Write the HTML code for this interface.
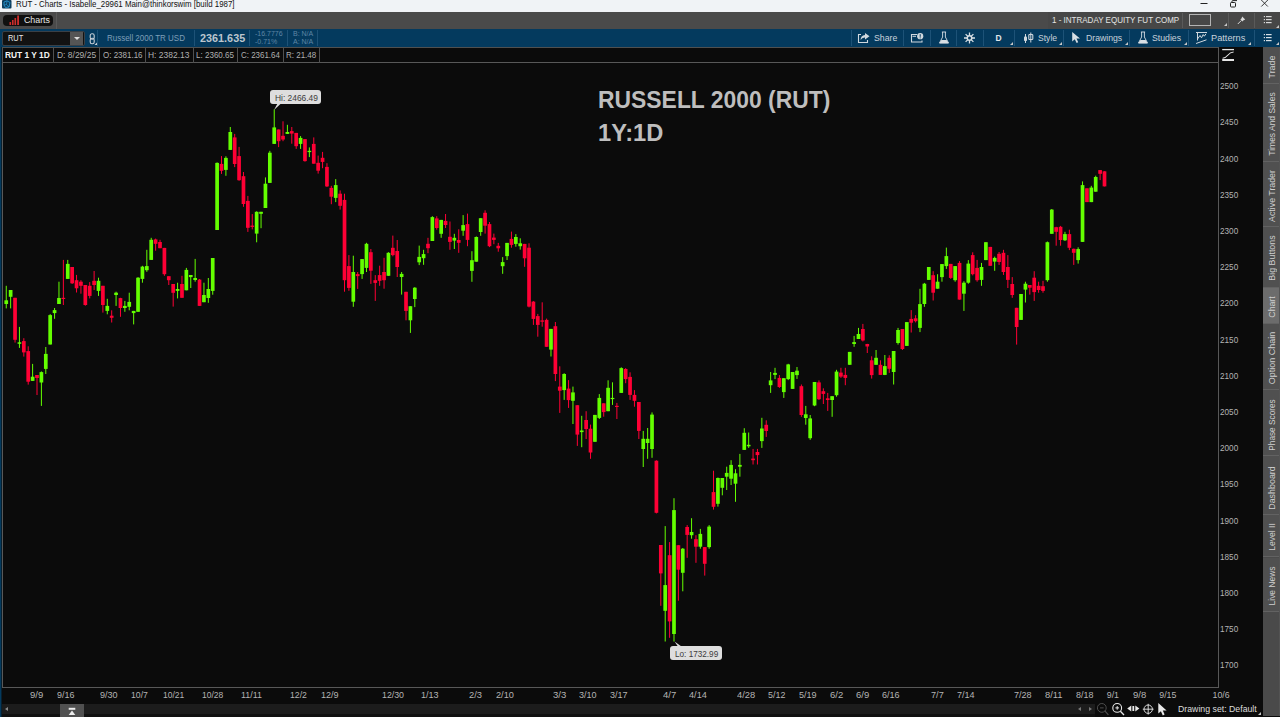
<!DOCTYPE html>
<html>
<head>
<meta charset="utf-8">
<title>RUT - Charts</title>
<style>
*{box-sizing:border-box;margin:0;padding:0}
html,body{width:1280px;height:717px;overflow:hidden;background:#0b0b0b;font-family:"Liberation Sans",sans-serif;}
#root{position:relative;width:1280px;height:717px;overflow:hidden;background:#0b0b0b;color:#c8c8c8;font-size:9px}
.abs{position:absolute}
/* title bar */
#titlebar{position:absolute;left:0;top:0;width:1280px;height:12px;background:#f0f3f6}
.titletext{position:absolute;left:15.8px;top:-1.8px;font-size:9.6px;line-height:11px;color:#111;white-space:nowrap}
/* tab bar */
#tabbar{position:absolute;left:0;top:12px;width:1280px;height:17px;background:#4a4a4a}
#chartstab{position:absolute;left:3px;top:3px;width:50px;height:11px;background:#101010;border-radius:4px}
#chartstab span{position:absolute;left:20.5px;top:0;font-size:9.2px;line-height:11px;color:#e8e8e8;white-space:nowrap}
.vsep{position:absolute;width:1px;background:#5a5a5a}
/* toolbar */
#toolbar{position:absolute;left:0;top:29px;width:1280px;height:18px;background:#043a5e}
.tsep{position:absolute;top:1px;width:1px;height:16px;background:#1d5277}
.tbt{position:absolute;top:3px;font-size:9.5px;line-height:12px;color:#c9d3dc;white-space:nowrap}
.tri{position:absolute;width:0;height:0;border-left:3px solid transparent;border-bottom:3px solid #c8c8c8}
/* info row */
#inforow{position:absolute;left:0;top:47px;width:1218px;height:15px}
.cell{position:absolute;top:1px;height:14px;border:1px solid #2e2e2e;background:#101010}
.ct{position:absolute;top:2px;font-size:8.8px;line-height:12px;color:#b0b0b0;white-space:nowrap}
.fit{transform-origin:0 50%}
/* chart */
#chart{position:absolute;left:0;top:0;width:1280px;height:717px}
.pl{position:absolute;left:1220px;font-size:8.8px;line-height:12px;color:#b4b4b4;white-space:nowrap}
.tl{position:absolute;top:688.8px;font-size:8.8px;line-height:12px;color:#b4b4b4;white-space:nowrap}
/* sidebar */
#sidebar{position:absolute;left:1263px;top:47px;width:17px;height:669px;background:#4a4a4a;border-right:1px solid #535353}
.st{position:absolute;left:1263px;width:16px;border-bottom:1px solid #626262;background:#505050}
.st.hl{background:#6c6c6c}
.st .rot{position:absolute;left:54%;top:50%;white-space:nowrap;font-size:9px;line-height:10px;color:#cfcfcf;transform:translate(-50%,-50%) rotate(-90deg);}
.fitc{display:inline-block;transform-origin:50% 50%}
.bigtitle{position:absolute;font-size:23.4px;font-weight:bold;line-height:33.3px;color:#bebebe;white-space:nowrap}
.bubble{position:absolute;height:14.3px;background:#dedede;border-radius:3px}
.btx{position:absolute;color:#3c3c3c;font-size:8.7px;line-height:14px;white-space:nowrap}
</style>
</head>
<body>
<div id="root">

<!-- ===== chart area ===== -->
<div id="chart">
<svg class="abs" style="left:0;top:0" width="1280" height="717" viewBox="0 0 1280 717" shape-rendering="crispEdges">
<!-- frame -->
<rect x="0" y="47" width="1" height="670" fill="#043a5e"/><rect x="1" y="47" width="1" height="670" fill="#08202f"/>
<rect x="2" y="62" width="1217" height="1" fill="#585858"/>
<rect x="2" y="47" width="1217" height="1" fill="#505050"/>
<rect x="2" y="47" width="1" height="16" fill="#505050"/>
<rect x="53" y="47" width="1" height="16" fill="#505050"/>
<rect x="99" y="47" width="1" height="16" fill="#505050"/>
<rect x="145" y="47" width="1" height="16" fill="#505050"/>
<rect x="193" y="47" width="1" height="16" fill="#505050"/>
<rect x="237" y="47" width="1" height="16" fill="#505050"/>
<rect x="283" y="47" width="1" height="16" fill="#505050"/>
<rect x="319" y="47" width="1" height="16" fill="#505050"/>
<rect x="2" y="62" width="1" height="626" fill="#585858"/>
<rect x="1218" y="47" width="1" height="641" fill="#585858"/>
<rect x="2" y="687" width="1217" height="1" fill="#585858"/>
</svg>
<svg class="abs" style="left:0;top:0" width="1280" height="717" viewBox="0 0 1280 717">
<rect x="5.75" y="285.8" width="1" height="22.6" fill="#64ff00"/>
<rect x="4.40" y="300.3" width="3.7" height="3.7" fill="#64ff00"/>
<rect x="10.14" y="290.0" width="1" height="18.4" fill="#64ff00"/>
<rect x="8.79" y="290.0" width="3.7" height="6.8" fill="#64ff00"/>
<rect x="14.54" y="297.8" width="1" height="44.8" fill="#ff0035"/>
<rect x="13.19" y="297.8" width="3.7" height="42.0" fill="#ff0035"/>
<rect x="18.93" y="326.9" width="1" height="21.0" fill="#64ff00"/>
<rect x="17.58" y="342.3" width="3.7" height="1.5" fill="#64ff00"/>
<rect x="23.32" y="338.2" width="1" height="18.4" fill="#ff0035"/>
<rect x="21.97" y="341.1" width="3.7" height="11.3" fill="#ff0035"/>
<rect x="27.71" y="346.3" width="1" height="38.3" fill="#ff0035"/>
<rect x="26.36" y="351.1" width="3.7" height="30.6" fill="#ff0035"/>
<rect x="32.11" y="363.9" width="1" height="17.0" fill="#64ff00"/>
<rect x="30.76" y="376.7" width="3.7" height="4.2" fill="#64ff00"/>
<rect x="36.50" y="375.0" width="1" height="20.0" fill="#ff0035"/>
<rect x="35.15" y="375.0" width="3.7" height="3.0" fill="#ff0035"/>
<rect x="40.89" y="371.4" width="1" height="34.5" fill="#64ff00"/>
<rect x="39.54" y="372.1" width="3.7" height="10.4" fill="#64ff00"/>
<rect x="45.29" y="347.0" width="1" height="27.0" fill="#64ff00"/>
<rect x="43.94" y="353.9" width="3.7" height="15.0" fill="#64ff00"/>
<rect x="49.68" y="314.1" width="1" height="30.4" fill="#64ff00"/>
<rect x="48.33" y="315.1" width="3.7" height="29.4" fill="#64ff00"/>
<rect x="54.07" y="308.0" width="1" height="10.8" fill="#64ff00"/>
<rect x="52.72" y="310.1" width="3.7" height="3.0" fill="#64ff00"/>
<rect x="58.47" y="281.7" width="1" height="22.3" fill="#64ff00"/>
<rect x="57.12" y="298.0" width="3.7" height="6.0" fill="#64ff00"/>
<rect x="62.86" y="259.9" width="1" height="45.1" fill="#ff0035"/>
<rect x="61.51" y="297.8" width="3.7" height="1.2" fill="#ff0035"/>
<rect x="67.25" y="259.9" width="1" height="19.0" fill="#64ff00"/>
<rect x="65.90" y="263.9" width="3.7" height="15.0" fill="#64ff00"/>
<rect x="71.64" y="267.0" width="1" height="17.0" fill="#ff0035"/>
<rect x="70.29" y="267.0" width="3.7" height="16.3" fill="#ff0035"/>
<rect x="76.04" y="274.9" width="1" height="17.6" fill="#ff0035"/>
<rect x="74.69" y="280.2" width="3.7" height="8.1" fill="#ff0035"/>
<rect x="80.43" y="280.2" width="1" height="13.5" fill="#ff0035"/>
<rect x="79.08" y="281.7" width="3.7" height="4.1" fill="#ff0035"/>
<rect x="84.82" y="285.0" width="1" height="20.7" fill="#ff0035"/>
<rect x="83.47" y="285.0" width="3.7" height="20.0" fill="#ff0035"/>
<rect x="89.22" y="282.1" width="1" height="16.3" fill="#ff0035"/>
<rect x="87.87" y="285.8" width="3.7" height="10.1" fill="#ff0035"/>
<rect x="93.61" y="271.0" width="1" height="19.0" fill="#ff0035"/>
<rect x="92.26" y="280.8" width="3.7" height="4.2" fill="#ff0035"/>
<rect x="98.00" y="277.7" width="1" height="18.2" fill="#64ff00"/>
<rect x="96.65" y="280.8" width="3.7" height="10.1" fill="#64ff00"/>
<rect x="102.40" y="285.8" width="1" height="26.8" fill="#ff0035"/>
<rect x="101.05" y="285.8" width="3.7" height="19.2" fill="#ff0035"/>
<rect x="106.79" y="298.8" width="1" height="15.5" fill="#64ff00"/>
<rect x="105.44" y="305.9" width="3.7" height="5.0" fill="#64ff00"/>
<rect x="111.18" y="310.3" width="1" height="12.2" fill="#ff0035"/>
<rect x="109.83" y="315.7" width="3.7" height="2.1" fill="#ff0035"/>
<rect x="115.57" y="291.7" width="1" height="14.2" fill="#64ff00"/>
<rect x="114.22" y="292.7" width="3.7" height="2.3" fill="#64ff00"/>
<rect x="119.97" y="297.8" width="1" height="19.0" fill="#ff0035"/>
<rect x="118.62" y="298.1" width="3.7" height="9.9" fill="#ff0035"/>
<rect x="124.36" y="300.9" width="1" height="10.9" fill="#64ff00"/>
<rect x="123.01" y="305.9" width="3.7" height="2.1" fill="#64ff00"/>
<rect x="128.75" y="292.7" width="1" height="17.6" fill="#64ff00"/>
<rect x="127.40" y="301.9" width="3.7" height="4.9" fill="#64ff00"/>
<rect x="133.15" y="310.9" width="1" height="13.5" fill="#64ff00"/>
<rect x="131.80" y="310.9" width="3.7" height="2.2" fill="#64ff00"/>
<rect x="137.54" y="277.1" width="1" height="34.7" fill="#64ff00"/>
<rect x="136.19" y="277.7" width="3.7" height="34.1" fill="#64ff00"/>
<rect x="141.93" y="265.8" width="1" height="16.9" fill="#64ff00"/>
<rect x="140.58" y="266.6" width="3.7" height="12.3" fill="#64ff00"/>
<rect x="146.33" y="249.8" width="1" height="22.0" fill="#64ff00"/>
<rect x="144.98" y="266.1" width="3.7" height="4.1" fill="#64ff00"/>
<rect x="150.72" y="237.8" width="1" height="22.1" fill="#64ff00"/>
<rect x="149.37" y="239.8" width="3.7" height="20.1" fill="#64ff00"/>
<rect x="155.11" y="238.6" width="1" height="12.1" fill="#ff0035"/>
<rect x="153.76" y="239.4" width="3.7" height="4.4" fill="#ff0035"/>
<rect x="159.50" y="239.8" width="1" height="8.4" fill="#ff0035"/>
<rect x="158.15" y="242.0" width="3.7" height="6.2" fill="#ff0035"/>
<rect x="163.90" y="247.9" width="1" height="27.9" fill="#ff0035"/>
<rect x="162.55" y="247.9" width="3.7" height="26.3" fill="#ff0035"/>
<rect x="168.29" y="276.2" width="1" height="8.8" fill="#ff0035"/>
<rect x="166.94" y="276.2" width="3.7" height="4.0" fill="#ff0035"/>
<rect x="172.68" y="284.0" width="1" height="22.6" fill="#ff0035"/>
<rect x="171.33" y="284.0" width="3.7" height="8.8" fill="#ff0035"/>
<rect x="177.08" y="282.7" width="1" height="15.7" fill="#64ff00"/>
<rect x="175.73" y="289.0" width="3.7" height="1.9" fill="#64ff00"/>
<rect x="181.47" y="275.8" width="1" height="22.0" fill="#ff0035"/>
<rect x="180.12" y="284.0" width="3.7" height="13.8" fill="#ff0035"/>
<rect x="185.86" y="267.9" width="1" height="22.4" fill="#64ff00"/>
<rect x="184.51" y="269.9" width="3.7" height="20.4" fill="#64ff00"/>
<rect x="190.26" y="275.0" width="1" height="13.0" fill="#64ff00"/>
<rect x="188.91" y="275.0" width="3.7" height="2.1" fill="#64ff00"/>
<rect x="194.65" y="258.9" width="1" height="22.8" fill="#64ff00"/>
<rect x="193.30" y="278.0" width="3.7" height="2.0" fill="#64ff00"/>
<rect x="199.04" y="279.0" width="1" height="26.9" fill="#ff0035"/>
<rect x="197.69" y="279.6" width="3.7" height="26.3" fill="#ff0035"/>
<rect x="203.44" y="282.7" width="1" height="19.5" fill="#64ff00"/>
<rect x="202.09" y="295.0" width="3.7" height="7.2" fill="#64ff00"/>
<rect x="207.83" y="278.0" width="1" height="24.8" fill="#64ff00"/>
<rect x="206.48" y="289.0" width="3.7" height="9.0" fill="#64ff00"/>
<rect x="212.22" y="258.0" width="1" height="36.7" fill="#64ff00"/>
<rect x="210.87" y="258.0" width="3.7" height="32.9" fill="#64ff00"/>
<rect x="216.61" y="162.4" width="1" height="67.6" fill="#64ff00"/>
<rect x="215.26" y="162.9" width="3.7" height="67.1" fill="#64ff00"/>
<rect x="221.01" y="156.1" width="1" height="17.8" fill="#ff0035"/>
<rect x="219.66" y="163.9" width="3.7" height="6.9" fill="#ff0035"/>
<rect x="225.40" y="156.3" width="1" height="19.5" fill="#64ff00"/>
<rect x="224.05" y="157.9" width="3.7" height="12.0" fill="#64ff00"/>
<rect x="229.79" y="127.0" width="1" height="22.9" fill="#64ff00"/>
<rect x="228.44" y="132.0" width="3.7" height="17.9" fill="#64ff00"/>
<rect x="234.19" y="133.9" width="1" height="33.2" fill="#ff0035"/>
<rect x="232.84" y="137.4" width="3.7" height="26.6" fill="#ff0035"/>
<rect x="238.58" y="146.9" width="1" height="33.9" fill="#ff0035"/>
<rect x="237.23" y="156.1" width="3.7" height="24.1" fill="#ff0035"/>
<rect x="242.97" y="172.0" width="1" height="34.8" fill="#ff0035"/>
<rect x="241.62" y="176.2" width="3.7" height="27.8" fill="#ff0035"/>
<rect x="247.36" y="195.9" width="1" height="36.0" fill="#ff0035"/>
<rect x="246.01" y="200.9" width="3.7" height="26.9" fill="#ff0035"/>
<rect x="251.76" y="214.1" width="1" height="15.3" fill="#ff0035"/>
<rect x="250.41" y="225.6" width="3.7" height="1.3" fill="#ff0035"/>
<rect x="256.15" y="211.3" width="1" height="31.0" fill="#64ff00"/>
<rect x="254.80" y="211.8" width="3.7" height="21.8" fill="#64ff00"/>
<rect x="260.54" y="211.8" width="1" height="16.4" fill="#64ff00"/>
<rect x="259.19" y="211.8" width="3.7" height="2.0" fill="#64ff00"/>
<rect x="264.94" y="177.4" width="1" height="30.6" fill="#64ff00"/>
<rect x="263.59" y="183.7" width="3.7" height="24.3" fill="#64ff00"/>
<rect x="269.33" y="150.8" width="1" height="32.1" fill="#64ff00"/>
<rect x="267.98" y="152.7" width="3.7" height="30.2" fill="#64ff00"/>
<rect x="273.72" y="109.4" width="1" height="34.5" fill="#64ff00"/>
<rect x="272.37" y="127.4" width="3.7" height="16.5" fill="#64ff00"/>
<rect x="278.12" y="129.5" width="1" height="17.6" fill="#ff0035"/>
<rect x="276.77" y="129.5" width="3.7" height="11.7" fill="#ff0035"/>
<rect x="282.51" y="121.3" width="1" height="19.9" fill="#ff0035"/>
<rect x="281.16" y="135.8" width="3.7" height="3.7" fill="#ff0035"/>
<rect x="286.90" y="124.8" width="1" height="9.1" fill="#64ff00"/>
<rect x="285.55" y="132.0" width="3.7" height="1.9" fill="#64ff00"/>
<rect x="291.29" y="127.0" width="1" height="16.7" fill="#ff0035"/>
<rect x="289.94" y="131.1" width="3.7" height="2.5" fill="#ff0035"/>
<rect x="295.69" y="132.9" width="1" height="16.0" fill="#ff0035"/>
<rect x="294.34" y="132.9" width="3.7" height="13.3" fill="#ff0035"/>
<rect x="300.08" y="136.1" width="1" height="12.8" fill="#64ff00"/>
<rect x="298.73" y="137.9" width="3.7" height="6.0" fill="#64ff00"/>
<rect x="304.47" y="139.1" width="1" height="22.6" fill="#ff0035"/>
<rect x="303.12" y="139.1" width="3.7" height="22.0" fill="#ff0035"/>
<rect x="308.87" y="147.4" width="1" height="9.7" fill="#64ff00"/>
<rect x="307.52" y="150.8" width="3.7" height="1.3" fill="#64ff00"/>
<rect x="313.26" y="137.4" width="1" height="26.3" fill="#ff0035"/>
<rect x="311.91" y="143.9" width="3.7" height="19.8" fill="#ff0035"/>
<rect x="317.65" y="155.6" width="1" height="18.0" fill="#ff0035"/>
<rect x="316.30" y="162.8" width="3.7" height="7.9" fill="#ff0035"/>
<rect x="322.05" y="151.9" width="1" height="16.3" fill="#ff0035"/>
<rect x="320.70" y="157.8" width="3.7" height="4.1" fill="#ff0035"/>
<rect x="326.44" y="163.2" width="1" height="23.8" fill="#ff0035"/>
<rect x="325.09" y="166.9" width="3.7" height="19.5" fill="#ff0035"/>
<rect x="330.83" y="185.8" width="1" height="18.4" fill="#ff0035"/>
<rect x="329.48" y="187.9" width="3.7" height="8.8" fill="#ff0035"/>
<rect x="335.22" y="179.1" width="1" height="23.0" fill="#64ff00"/>
<rect x="333.87" y="185.1" width="3.7" height="12.8" fill="#64ff00"/>
<rect x="339.62" y="190.4" width="1" height="19.2" fill="#ff0035"/>
<rect x="338.27" y="193.7" width="3.7" height="12.1" fill="#ff0035"/>
<rect x="344.01" y="193.7" width="1" height="98.0" fill="#ff0035"/>
<rect x="342.66" y="199.9" width="3.7" height="80.3" fill="#ff0035"/>
<rect x="348.40" y="255.1" width="1" height="35.7" fill="#ff0035"/>
<rect x="347.05" y="266.1" width="3.7" height="21.8" fill="#ff0035"/>
<rect x="352.80" y="255.7" width="1" height="51.1" fill="#64ff00"/>
<rect x="351.45" y="272.0" width="3.7" height="29.7" fill="#64ff00"/>
<rect x="357.19" y="272.0" width="1" height="16.9" fill="#ff0035"/>
<rect x="355.84" y="274.1" width="3.7" height="2.0" fill="#ff0035"/>
<rect x="361.58" y="259.1" width="1" height="19.8" fill="#64ff00"/>
<rect x="360.23" y="259.1" width="3.7" height="15.0" fill="#64ff00"/>
<rect x="365.98" y="242.8" width="1" height="29.2" fill="#64ff00"/>
<rect x="364.63" y="243.8" width="3.7" height="24.1" fill="#64ff00"/>
<rect x="370.37" y="249.0" width="1" height="34.9" fill="#ff0035"/>
<rect x="369.02" y="252.2" width="3.7" height="18.5" fill="#ff0035"/>
<rect x="374.76" y="275.1" width="1" height="25.8" fill="#ff0035"/>
<rect x="373.41" y="280.2" width="3.7" height="2.7" fill="#ff0035"/>
<rect x="379.15" y="265.7" width="1" height="20.1" fill="#ff0035"/>
<rect x="377.80" y="275.1" width="3.7" height="5.7" fill="#ff0035"/>
<rect x="383.55" y="257.8" width="1" height="30.9" fill="#ff0035"/>
<rect x="382.20" y="272.0" width="3.7" height="8.2" fill="#ff0035"/>
<rect x="387.94" y="252.2" width="1" height="23.6" fill="#64ff00"/>
<rect x="386.59" y="252.8" width="3.7" height="23.0" fill="#64ff00"/>
<rect x="392.33" y="235.6" width="1" height="20.7" fill="#ff0035"/>
<rect x="390.98" y="247.8" width="3.7" height="7.3" fill="#ff0035"/>
<rect x="396.73" y="240.0" width="1" height="37.0" fill="#ff0035"/>
<rect x="395.38" y="251.0" width="3.7" height="16.0" fill="#ff0035"/>
<rect x="401.12" y="272.0" width="1" height="22.6" fill="#64ff00"/>
<rect x="399.77" y="273.9" width="3.7" height="3.1" fill="#64ff00"/>
<rect x="405.51" y="291.8" width="1" height="28.5" fill="#ff0035"/>
<rect x="404.16" y="291.8" width="3.7" height="19.1" fill="#ff0035"/>
<rect x="409.91" y="306.2" width="1" height="26.7" fill="#64ff00"/>
<rect x="408.56" y="306.2" width="3.7" height="14.1" fill="#64ff00"/>
<rect x="414.30" y="287.1" width="1" height="20.0" fill="#64ff00"/>
<rect x="412.95" y="287.7" width="3.7" height="11.3" fill="#64ff00"/>
<rect x="418.69" y="245.6" width="1" height="19.5" fill="#64ff00"/>
<rect x="417.34" y="256.9" width="3.7" height="5.4" fill="#64ff00"/>
<rect x="423.08" y="249.8" width="1" height="15.0" fill="#64ff00"/>
<rect x="421.73" y="254.1" width="3.7" height="4.1" fill="#64ff00"/>
<rect x="427.48" y="237.8" width="1" height="15.4" fill="#ff0035"/>
<rect x="426.13" y="243.8" width="3.7" height="4.4" fill="#ff0035"/>
<rect x="431.87" y="216.2" width="1" height="24.8" fill="#64ff00"/>
<rect x="430.52" y="217.1" width="3.7" height="23.9" fill="#64ff00"/>
<rect x="436.26" y="216.2" width="1" height="13.5" fill="#ff0035"/>
<rect x="434.91" y="218.4" width="3.7" height="9.6" fill="#ff0035"/>
<rect x="440.66" y="219.9" width="1" height="17.9" fill="#64ff00"/>
<rect x="439.31" y="219.9" width="3.7" height="13.9" fill="#64ff00"/>
<rect x="445.05" y="214.0" width="1" height="14.0" fill="#ff0035"/>
<rect x="443.70" y="220.9" width="3.7" height="4.1" fill="#ff0035"/>
<rect x="449.44" y="221.5" width="1" height="28.3" fill="#ff0035"/>
<rect x="448.09" y="236.8" width="3.7" height="5.1" fill="#ff0035"/>
<rect x="453.84" y="233.8" width="1" height="15.2" fill="#64ff00"/>
<rect x="452.49" y="237.8" width="3.7" height="2.8" fill="#64ff00"/>
<rect x="458.23" y="229.3" width="1" height="23.5" fill="#ff0035"/>
<rect x="456.88" y="240.0" width="3.7" height="2.8" fill="#ff0035"/>
<rect x="462.62" y="215.1" width="1" height="20.7" fill="#64ff00"/>
<rect x="461.27" y="225.1" width="3.7" height="5.6" fill="#64ff00"/>
<rect x="467.01" y="213.6" width="1" height="32.6" fill="#ff0035"/>
<rect x="465.66" y="224.1" width="3.7" height="15.8" fill="#ff0035"/>
<rect x="471.41" y="251.2" width="1" height="30.6" fill="#64ff00"/>
<rect x="470.06" y="260.2" width="3.7" height="10.7" fill="#64ff00"/>
<rect x="475.80" y="236.4" width="1" height="25.3" fill="#64ff00"/>
<rect x="474.45" y="237.0" width="3.7" height="24.7" fill="#64ff00"/>
<rect x="480.19" y="218.2" width="1" height="17.6" fill="#64ff00"/>
<rect x="478.84" y="218.2" width="3.7" height="13.8" fill="#64ff00"/>
<rect x="484.59" y="210.3" width="1" height="23.3" fill="#ff0035"/>
<rect x="483.24" y="212.8" width="3.7" height="12.9" fill="#ff0035"/>
<rect x="488.98" y="222.0" width="1" height="25.1" fill="#ff0035"/>
<rect x="487.63" y="224.1" width="3.7" height="22.1" fill="#ff0035"/>
<rect x="493.37" y="233.6" width="1" height="10.6" fill="#ff0035"/>
<rect x="492.02" y="237.6" width="3.7" height="2.3" fill="#ff0035"/>
<rect x="497.77" y="242.9" width="1" height="8.8" fill="#ff0035"/>
<rect x="496.42" y="245.8" width="3.7" height="2.5" fill="#ff0035"/>
<rect x="502.16" y="257.1" width="1" height="16.7" fill="#64ff00"/>
<rect x="500.81" y="262.1" width="3.7" height="4.1" fill="#64ff00"/>
<rect x="506.55" y="242.9" width="1" height="17.1" fill="#64ff00"/>
<rect x="505.20" y="242.9" width="3.7" height="13.2" fill="#64ff00"/>
<rect x="510.94" y="231.6" width="1" height="16.1" fill="#ff0035"/>
<rect x="509.59" y="238.9" width="3.7" height="6.0" fill="#ff0035"/>
<rect x="515.34" y="234.1" width="1" height="12.6" fill="#64ff00"/>
<rect x="513.99" y="237.0" width="3.7" height="6.9" fill="#64ff00"/>
<rect x="519.73" y="238.3" width="1" height="11.3" fill="#64ff00"/>
<rect x="518.38" y="243.3" width="3.7" height="2.9" fill="#64ff00"/>
<rect x="524.12" y="243.9" width="1" height="22.9" fill="#ff0035"/>
<rect x="522.77" y="243.9" width="3.7" height="14.4" fill="#ff0035"/>
<rect x="528.52" y="243.3" width="1" height="64.1" fill="#ff0035"/>
<rect x="527.17" y="247.7" width="3.7" height="58.9" fill="#ff0035"/>
<rect x="532.91" y="301.1" width="1" height="23.8" fill="#ff0035"/>
<rect x="531.56" y="301.6" width="3.7" height="17.3" fill="#ff0035"/>
<rect x="537.30" y="313.9" width="1" height="22.8" fill="#ff0035"/>
<rect x="535.95" y="316.1" width="3.7" height="8.8" fill="#ff0035"/>
<rect x="541.70" y="302.3" width="1" height="24.4" fill="#ff0035"/>
<rect x="540.35" y="320.4" width="3.7" height="1.3" fill="#ff0035"/>
<rect x="546.09" y="318.6" width="1" height="28.2" fill="#ff0035"/>
<rect x="544.74" y="319.9" width="3.7" height="26.9" fill="#ff0035"/>
<rect x="550.48" y="328.9" width="1" height="27.6" fill="#64ff00"/>
<rect x="549.13" y="328.9" width="3.7" height="20.7" fill="#64ff00"/>
<rect x="554.88" y="322.0" width="1" height="59.1" fill="#ff0035"/>
<rect x="553.53" y="326.2" width="3.7" height="47.8" fill="#ff0035"/>
<rect x="559.27" y="366.3" width="1" height="46.6" fill="#ff0035"/>
<rect x="557.92" y="386.6" width="3.7" height="4.1" fill="#ff0035"/>
<rect x="563.66" y="373.2" width="1" height="26.7" fill="#64ff00"/>
<rect x="562.31" y="374.0" width="3.7" height="16.1" fill="#64ff00"/>
<rect x="568.05" y="380.1" width="1" height="27.8" fill="#ff0035"/>
<rect x="566.70" y="388.6" width="3.7" height="11.5" fill="#ff0035"/>
<rect x="572.45" y="386.6" width="1" height="37.4" fill="#64ff00"/>
<rect x="571.10" y="392.4" width="3.7" height="8.4" fill="#64ff00"/>
<rect x="576.84" y="405.2" width="1" height="40.7" fill="#ff0035"/>
<rect x="575.49" y="405.2" width="3.7" height="29.4" fill="#ff0035"/>
<rect x="581.23" y="415.8" width="1" height="31.4" fill="#64ff00"/>
<rect x="579.88" y="430.5" width="3.7" height="1.6" fill="#64ff00"/>
<rect x="585.63" y="411.2" width="1" height="27.8" fill="#ff0035"/>
<rect x="584.28" y="420.0" width="3.7" height="9.0" fill="#ff0035"/>
<rect x="590.02" y="424.6" width="1" height="34.2" fill="#ff0035"/>
<rect x="588.67" y="428.7" width="3.7" height="23.8" fill="#ff0035"/>
<rect x="594.41" y="414.9" width="1" height="26.9" fill="#64ff00"/>
<rect x="593.06" y="414.9" width="3.7" height="26.9" fill="#64ff00"/>
<rect x="598.80" y="394.1" width="1" height="24.9" fill="#64ff00"/>
<rect x="597.45" y="397.9" width="3.7" height="20.0" fill="#64ff00"/>
<rect x="603.20" y="403.3" width="1" height="13.4" fill="#ff0035"/>
<rect x="601.85" y="403.3" width="3.7" height="8.8" fill="#ff0035"/>
<rect x="607.59" y="380.3" width="1" height="30.9" fill="#64ff00"/>
<rect x="606.24" y="387.8" width="3.7" height="23.4" fill="#64ff00"/>
<rect x="611.98" y="382.3" width="1" height="22.6" fill="#64ff00"/>
<rect x="610.63" y="397.9" width="3.7" height="1.2" fill="#64ff00"/>
<rect x="616.38" y="402.9" width="1" height="16.1" fill="#ff0035"/>
<rect x="615.03" y="405.8" width="3.7" height="1.2" fill="#ff0035"/>
<rect x="620.77" y="367.3" width="1" height="25.6" fill="#64ff00"/>
<rect x="619.42" y="368.1" width="3.7" height="24.8" fill="#64ff00"/>
<rect x="625.16" y="368.1" width="1" height="15.1" fill="#ff0035"/>
<rect x="623.81" y="369.0" width="3.7" height="10.1" fill="#ff0035"/>
<rect x="629.56" y="372.3" width="1" height="27.6" fill="#ff0035"/>
<rect x="628.21" y="376.9" width="3.7" height="18.0" fill="#ff0035"/>
<rect x="633.95" y="390.1" width="1" height="16.6" fill="#ff0035"/>
<rect x="632.60" y="394.9" width="3.7" height="5.9" fill="#ff0035"/>
<rect x="638.34" y="402.0" width="1" height="37.0" fill="#ff0035"/>
<rect x="636.99" y="402.0" width="3.7" height="28.9" fill="#ff0035"/>
<rect x="642.74" y="430.9" width="1" height="36.1" fill="#64ff00"/>
<rect x="641.39" y="438.8" width="3.7" height="10.2" fill="#64ff00"/>
<rect x="647.13" y="428.0" width="1" height="30.8" fill="#64ff00"/>
<rect x="645.78" y="438.8" width="3.7" height="4.2" fill="#64ff00"/>
<rect x="651.52" y="412.4" width="1" height="45.4" fill="#64ff00"/>
<rect x="650.17" y="414.6" width="3.7" height="34.4" fill="#64ff00"/>
<rect x="655.91" y="460.3" width="1" height="53.1" fill="#ff0035"/>
<rect x="654.56" y="460.7" width="3.7" height="52.1" fill="#ff0035"/>
<rect x="660.31" y="545.0" width="1" height="60.8" fill="#ff0035"/>
<rect x="658.96" y="545.0" width="3.7" height="28.4" fill="#ff0035"/>
<rect x="664.70" y="526.1" width="1" height="115.4" fill="#64ff00"/>
<rect x="663.35" y="585.1" width="3.7" height="25.7" fill="#64ff00"/>
<rect x="669.09" y="542.1" width="1" height="95.7" fill="#ff0035"/>
<rect x="667.74" y="555.2" width="3.7" height="66.2" fill="#ff0035"/>
<rect x="673.49" y="498.2" width="1" height="143.3" fill="#64ff00"/>
<rect x="672.14" y="510.1" width="3.7" height="123.9" fill="#64ff00"/>
<rect x="677.88" y="545.2" width="1" height="55.5" fill="#ff0035"/>
<rect x="676.53" y="545.2" width="3.7" height="24.5" fill="#ff0035"/>
<rect x="682.27" y="548.0" width="1" height="43.3" fill="#64ff00"/>
<rect x="680.92" y="548.7" width="3.7" height="24.1" fill="#64ff00"/>
<rect x="686.66" y="525.1" width="1" height="32.7" fill="#ff0035"/>
<rect x="685.31" y="527.0" width="3.7" height="7.9" fill="#ff0035"/>
<rect x="691.06" y="518.2" width="1" height="20.5" fill="#64ff00"/>
<rect x="689.71" y="532.0" width="3.7" height="3.2" fill="#64ff00"/>
<rect x="695.45" y="535.2" width="1" height="27.6" fill="#ff0035"/>
<rect x="694.10" y="539.2" width="3.7" height="7.5" fill="#ff0035"/>
<rect x="699.84" y="528.9" width="1" height="19.8" fill="#64ff00"/>
<rect x="698.49" y="533.9" width="3.7" height="12.8" fill="#64ff00"/>
<rect x="704.24" y="547.1" width="1" height="28.5" fill="#ff0035"/>
<rect x="702.89" y="547.1" width="3.7" height="16.7" fill="#ff0035"/>
<rect x="708.63" y="525.1" width="1" height="23.6" fill="#64ff00"/>
<rect x="707.28" y="526.6" width="3.7" height="20.5" fill="#64ff00"/>
<rect x="713.02" y="470.7" width="1" height="38.9" fill="#ff0035"/>
<rect x="711.67" y="492.1" width="3.7" height="14.7" fill="#ff0035"/>
<rect x="717.42" y="477.5" width="1" height="29.1" fill="#64ff00"/>
<rect x="716.07" y="478.0" width="3.7" height="25.8" fill="#64ff00"/>
<rect x="721.81" y="478.0" width="1" height="17.3" fill="#64ff00"/>
<rect x="720.46" y="478.0" width="3.7" height="9.8" fill="#64ff00"/>
<rect x="726.20" y="466.7" width="1" height="23.3" fill="#64ff00"/>
<rect x="724.85" y="472.9" width="3.7" height="3.8" fill="#64ff00"/>
<rect x="730.59" y="460.2" width="1" height="24.8" fill="#64ff00"/>
<rect x="729.24" y="464.9" width="3.7" height="13.8" fill="#64ff00"/>
<rect x="734.99" y="469.2" width="1" height="32.6" fill="#64ff00"/>
<rect x="733.64" y="473.3" width="3.7" height="10.4" fill="#64ff00"/>
<rect x="739.38" y="453.9" width="1" height="22.8" fill="#64ff00"/>
<rect x="738.03" y="464.9" width="3.7" height="1.8" fill="#64ff00"/>
<rect x="743.77" y="428.2" width="1" height="21.7" fill="#64ff00"/>
<rect x="742.42" y="432.8" width="3.7" height="17.1" fill="#64ff00"/>
<rect x="748.17" y="432.5" width="1" height="15.4" fill="#64ff00"/>
<rect x="746.82" y="444.8" width="3.7" height="1.5" fill="#64ff00"/>
<rect x="752.56" y="448.9" width="1" height="15.6" fill="#ff0035"/>
<rect x="751.21" y="458.6" width="3.7" height="1.6" fill="#ff0035"/>
<rect x="756.95" y="448.9" width="1" height="15.6" fill="#ff0035"/>
<rect x="755.60" y="452.0" width="3.7" height="3.1" fill="#ff0035"/>
<rect x="761.35" y="417.8" width="1" height="30.1" fill="#64ff00"/>
<rect x="760.00" y="428.5" width="3.7" height="12.6" fill="#64ff00"/>
<rect x="765.74" y="420.3" width="1" height="16.6" fill="#ff0035"/>
<rect x="764.39" y="424.8" width="3.7" height="6.2" fill="#ff0035"/>
<rect x="770.13" y="372.0" width="1" height="20.9" fill="#64ff00"/>
<rect x="768.78" y="380.4" width="3.7" height="4.8" fill="#64ff00"/>
<rect x="774.52" y="367.8" width="1" height="11.3" fill="#64ff00"/>
<rect x="773.17" y="372.9" width="3.7" height="2.0" fill="#64ff00"/>
<rect x="778.92" y="375.1" width="1" height="12.8" fill="#ff0035"/>
<rect x="777.57" y="377.9" width="3.7" height="9.1" fill="#ff0035"/>
<rect x="783.31" y="378.2" width="1" height="19.7" fill="#64ff00"/>
<rect x="781.96" y="378.2" width="3.7" height="13.9" fill="#64ff00"/>
<rect x="787.70" y="363.8" width="1" height="16.3" fill="#64ff00"/>
<rect x="786.35" y="364.4" width="3.7" height="14.7" fill="#64ff00"/>
<rect x="792.10" y="372.0" width="1" height="16.9" fill="#64ff00"/>
<rect x="790.75" y="372.0" width="3.7" height="16.9" fill="#64ff00"/>
<rect x="796.49" y="367.0" width="1" height="11.9" fill="#64ff00"/>
<rect x="795.14" y="370.7" width="3.7" height="4.4" fill="#64ff00"/>
<rect x="800.88" y="384.5" width="1" height="32.3" fill="#ff0035"/>
<rect x="799.53" y="386.2" width="3.7" height="28.8" fill="#ff0035"/>
<rect x="805.28" y="405.9" width="1" height="18.8" fill="#64ff00"/>
<rect x="803.93" y="414.3" width="3.7" height="3.7" fill="#64ff00"/>
<rect x="809.67" y="415.0" width="1" height="24.8" fill="#64ff00"/>
<rect x="808.32" y="418.4" width="3.7" height="19.8" fill="#64ff00"/>
<rect x="814.06" y="382.0" width="1" height="24.2" fill="#64ff00"/>
<rect x="812.71" y="382.0" width="3.7" height="23.5" fill="#64ff00"/>
<rect x="818.45" y="380.4" width="1" height="19.6" fill="#ff0035"/>
<rect x="817.10" y="382.4" width="3.7" height="16.8" fill="#ff0035"/>
<rect x="822.85" y="388.3" width="1" height="15.7" fill="#ff0035"/>
<rect x="821.50" y="391.2" width="3.7" height="2.7" fill="#ff0035"/>
<rect x="827.24" y="392.9" width="1" height="18.0" fill="#ff0035"/>
<rect x="825.89" y="398.3" width="3.7" height="1.7" fill="#ff0035"/>
<rect x="831.63" y="396.2" width="1" height="20.6" fill="#64ff00"/>
<rect x="830.28" y="396.2" width="3.7" height="3.8" fill="#64ff00"/>
<rect x="836.03" y="369.8" width="1" height="26.9" fill="#64ff00"/>
<rect x="834.68" y="371.6" width="3.7" height="23.6" fill="#64ff00"/>
<rect x="840.42" y="367.8" width="1" height="10.1" fill="#ff0035"/>
<rect x="839.07" y="372.6" width="3.7" height="4.0" fill="#ff0035"/>
<rect x="844.81" y="367.8" width="1" height="17.4" fill="#ff0035"/>
<rect x="843.46" y="374.9" width="3.7" height="3.0" fill="#ff0035"/>
<rect x="849.21" y="351.9" width="1" height="12.9" fill="#64ff00"/>
<rect x="847.86" y="351.9" width="3.7" height="12.9" fill="#64ff00"/>
<rect x="853.60" y="335.9" width="1" height="10.9" fill="#64ff00"/>
<rect x="852.25" y="342.1" width="3.7" height="1.9" fill="#64ff00"/>
<rect x="857.99" y="327.9" width="1" height="11.1" fill="#64ff00"/>
<rect x="856.64" y="334.0" width="3.7" height="5.0" fill="#64ff00"/>
<rect x="862.38" y="323.9" width="1" height="17.6" fill="#ff0035"/>
<rect x="861.03" y="329.0" width="3.7" height="11.5" fill="#ff0035"/>
<rect x="866.78" y="343.8" width="1" height="9.2" fill="#ff0035"/>
<rect x="865.43" y="344.0" width="3.7" height="2.5" fill="#ff0035"/>
<rect x="871.17" y="356.3" width="1" height="22.3" fill="#ff0035"/>
<rect x="869.82" y="360.3" width="3.7" height="14.8" fill="#ff0035"/>
<rect x="875.56" y="350.0" width="1" height="14.8" fill="#64ff00"/>
<rect x="874.21" y="357.8" width="3.7" height="7.0" fill="#64ff00"/>
<rect x="879.96" y="360.3" width="1" height="14.6" fill="#ff0035"/>
<rect x="878.61" y="364.8" width="3.7" height="10.1" fill="#ff0035"/>
<rect x="884.35" y="355.0" width="1" height="20.1" fill="#64ff00"/>
<rect x="883.00" y="366.1" width="3.7" height="8.8" fill="#64ff00"/>
<rect x="888.74" y="355.3" width="1" height="17.6" fill="#ff0035"/>
<rect x="887.39" y="357.8" width="3.7" height="11.0" fill="#ff0035"/>
<rect x="893.14" y="351.0" width="1" height="33.5" fill="#64ff00"/>
<rect x="891.79" y="351.0" width="3.7" height="21.0" fill="#64ff00"/>
<rect x="897.53" y="327.9" width="1" height="16.7" fill="#64ff00"/>
<rect x="896.18" y="330.0" width="3.7" height="13.0" fill="#64ff00"/>
<rect x="901.92" y="329.0" width="1" height="21.0" fill="#ff0035"/>
<rect x="900.57" y="329.0" width="3.7" height="20.0" fill="#ff0035"/>
<rect x="906.31" y="322.1" width="1" height="23.8" fill="#64ff00"/>
<rect x="904.96" y="322.1" width="3.7" height="23.8" fill="#64ff00"/>
<rect x="910.71" y="310.1" width="1" height="22.4" fill="#ff0035"/>
<rect x="909.36" y="318.9" width="3.7" height="3.8" fill="#ff0035"/>
<rect x="915.10" y="315.2" width="1" height="7.2" fill="#ff0035"/>
<rect x="913.75" y="318.3" width="3.7" height="2.9" fill="#ff0035"/>
<rect x="919.49" y="288.8" width="1" height="43.3" fill="#64ff00"/>
<rect x="918.14" y="304.1" width="3.7" height="23.8" fill="#64ff00"/>
<rect x="923.89" y="282.9" width="1" height="23.9" fill="#64ff00"/>
<rect x="922.54" y="283.7" width="3.7" height="20.3" fill="#64ff00"/>
<rect x="928.28" y="267.0" width="1" height="12.9" fill="#64ff00"/>
<rect x="926.93" y="267.0" width="3.7" height="12.9" fill="#64ff00"/>
<rect x="932.67" y="271.2" width="1" height="29.3" fill="#ff0035"/>
<rect x="931.32" y="275.2" width="3.7" height="17.5" fill="#ff0035"/>
<rect x="937.07" y="274.2" width="1" height="14.5" fill="#64ff00"/>
<rect x="935.72" y="281.7" width="3.7" height="7.0" fill="#64ff00"/>
<rect x="941.46" y="264.1" width="1" height="17.6" fill="#64ff00"/>
<rect x="940.11" y="264.1" width="3.7" height="13.0" fill="#64ff00"/>
<rect x="945.85" y="247.6" width="1" height="21.3" fill="#64ff00"/>
<rect x="944.50" y="256.1" width="3.7" height="10.0" fill="#64ff00"/>
<rect x="950.25" y="263.9" width="1" height="15.0" fill="#ff0035"/>
<rect x="948.90" y="263.9" width="3.7" height="14.0" fill="#ff0035"/>
<rect x="954.64" y="266.1" width="1" height="15.6" fill="#64ff00"/>
<rect x="953.29" y="266.1" width="3.7" height="14.1" fill="#64ff00"/>
<rect x="959.03" y="261.1" width="1" height="38.5" fill="#ff0035"/>
<rect x="957.68" y="262.9" width="3.7" height="36.7" fill="#ff0035"/>
<rect x="963.42" y="281.2" width="1" height="29.7" fill="#64ff00"/>
<rect x="962.07" y="282.7" width="3.7" height="11.0" fill="#64ff00"/>
<rect x="967.82" y="260.1" width="1" height="23.6" fill="#64ff00"/>
<rect x="966.47" y="263.6" width="3.7" height="19.1" fill="#64ff00"/>
<rect x="972.21" y="252.3" width="1" height="23.1" fill="#ff0035"/>
<rect x="970.86" y="255.1" width="3.7" height="19.1" fill="#ff0035"/>
<rect x="976.60" y="259.9" width="1" height="21.8" fill="#ff0035"/>
<rect x="975.25" y="267.9" width="3.7" height="12.3" fill="#ff0035"/>
<rect x="981.00" y="262.9" width="1" height="22.9" fill="#64ff00"/>
<rect x="979.65" y="267.0" width="3.7" height="12.9" fill="#64ff00"/>
<rect x="985.39" y="242.2" width="1" height="17.9" fill="#64ff00"/>
<rect x="984.04" y="242.2" width="3.7" height="17.9" fill="#64ff00"/>
<rect x="989.78" y="246.9" width="1" height="18.9" fill="#ff0035"/>
<rect x="988.43" y="246.9" width="3.7" height="18.9" fill="#ff0035"/>
<rect x="994.17" y="256.6" width="1" height="14.2" fill="#64ff00"/>
<rect x="992.82" y="257.9" width="3.7" height="3.7" fill="#64ff00"/>
<rect x="998.57" y="252.0" width="1" height="12.9" fill="#ff0035"/>
<rect x="997.22" y="253.8" width="3.7" height="8.2" fill="#ff0035"/>
<rect x="1002.96" y="249.8" width="1" height="25.1" fill="#ff0035"/>
<rect x="1001.61" y="252.8" width="3.7" height="19.2" fill="#ff0035"/>
<rect x="1007.35" y="255.1" width="1" height="32.9" fill="#ff0035"/>
<rect x="1006.00" y="267.0" width="3.7" height="12.9" fill="#ff0035"/>
<rect x="1011.75" y="277.1" width="1" height="20.7" fill="#ff0035"/>
<rect x="1010.40" y="284.0" width="3.7" height="11.0" fill="#ff0035"/>
<rect x="1016.14" y="307.8" width="1" height="36.8" fill="#ff0035"/>
<rect x="1014.79" y="307.8" width="3.7" height="19.2" fill="#ff0035"/>
<rect x="1020.53" y="294.0" width="1" height="25.9" fill="#64ff00"/>
<rect x="1019.18" y="294.0" width="3.7" height="25.9" fill="#64ff00"/>
<rect x="1024.93" y="281.7" width="1" height="20.8" fill="#64ff00"/>
<rect x="1023.58" y="283.7" width="3.7" height="5.9" fill="#64ff00"/>
<rect x="1029.32" y="285.0" width="1" height="9.6" fill="#ff0035"/>
<rect x="1027.97" y="285.0" width="3.7" height="2.7" fill="#ff0035"/>
<rect x="1033.71" y="271.2" width="1" height="29.7" fill="#ff0035"/>
<rect x="1032.36" y="277.7" width="3.7" height="14.4" fill="#ff0035"/>
<rect x="1038.11" y="281.7" width="1" height="11.0" fill="#ff0035"/>
<rect x="1036.76" y="285.8" width="3.7" height="4.2" fill="#ff0035"/>
<rect x="1042.50" y="280.8" width="1" height="11.9" fill="#ff0035"/>
<rect x="1041.15" y="286.2" width="3.7" height="4.7" fill="#ff0035"/>
<rect x="1046.89" y="241.5" width="1" height="40.2" fill="#64ff00"/>
<rect x="1045.54" y="242.2" width="3.7" height="38.0" fill="#64ff00"/>
<rect x="1051.28" y="209.0" width="1" height="24.8" fill="#64ff00"/>
<rect x="1049.93" y="209.6" width="3.7" height="24.2" fill="#64ff00"/>
<rect x="1055.68" y="226.8" width="1" height="18.9" fill="#ff0035"/>
<rect x="1054.33" y="227.2" width="3.7" height="4.6" fill="#ff0035"/>
<rect x="1060.07" y="225.9" width="1" height="19.8" fill="#ff0035"/>
<rect x="1058.72" y="226.8" width="3.7" height="13.2" fill="#ff0035"/>
<rect x="1064.46" y="231.8" width="1" height="9.2" fill="#64ff00"/>
<rect x="1063.11" y="234.1" width="3.7" height="6.2" fill="#64ff00"/>
<rect x="1068.86" y="229.7" width="1" height="20.4" fill="#ff0035"/>
<rect x="1067.51" y="234.1" width="3.7" height="13.7" fill="#ff0035"/>
<rect x="1073.25" y="248.6" width="1" height="16.3" fill="#ff0035"/>
<rect x="1071.90" y="248.8" width="3.7" height="4.0" fill="#ff0035"/>
<rect x="1077.64" y="247.3" width="1" height="16.3" fill="#64ff00"/>
<rect x="1076.29" y="249.1" width="3.7" height="11.0" fill="#64ff00"/>
<rect x="1082.03" y="181.4" width="1" height="60.5" fill="#64ff00"/>
<rect x="1080.68" y="185.1" width="3.7" height="56.8" fill="#64ff00"/>
<rect x="1086.43" y="188.3" width="1" height="13.8" fill="#ff0035"/>
<rect x="1085.08" y="188.3" width="3.7" height="13.8" fill="#ff0035"/>
<rect x="1090.82" y="185.8" width="1" height="16.3" fill="#64ff00"/>
<rect x="1089.47" y="187.6" width="3.7" height="14.5" fill="#64ff00"/>
<rect x="1095.21" y="175.7" width="1" height="16.0" fill="#64ff00"/>
<rect x="1093.86" y="177.0" width="3.7" height="14.7" fill="#64ff00"/>
<rect x="1099.61" y="170.1" width="1" height="10.0" fill="#ff0035"/>
<rect x="1098.26" y="170.1" width="3.7" height="3.7" fill="#ff0035"/>
<rect x="1104.00" y="171.3" width="1" height="15.1" fill="#ff0035"/>
<rect x="1102.65" y="171.3" width="3.7" height="15.1" fill="#ff0035"/>
</svg>
<div class="pl fit" style="transform:scaleX(0.9300);top:80.1px">2500</div>
<div class="pl fit" style="transform:scaleX(0.9300);top:116.3px">2450</div>
<div class="pl fit" style="transform:scaleX(0.9300);top:152.5px">2400</div>
<div class="pl fit" style="transform:scaleX(0.9300);top:188.7px">2350</div>
<div class="pl fit" style="transform:scaleX(0.9300);top:224.9px">2300</div>
<div class="pl fit" style="transform:scaleX(0.9300);top:261.1px">2250</div>
<div class="pl fit" style="transform:scaleX(0.9300);top:297.3px">2200</div>
<div class="pl fit" style="transform:scaleX(0.9300);top:333.5px">2150</div>
<div class="pl fit" style="transform:scaleX(0.9300);top:369.7px">2100</div>
<div class="pl fit" style="transform:scaleX(0.9300);top:405.9px">2050</div>
<div class="pl fit" style="transform:scaleX(0.9300);top:442.1px">2000</div>
<div class="pl fit" style="transform:scaleX(0.9300);top:478.3px">1950</div>
<div class="pl fit" style="transform:scaleX(0.9300);top:514.5px">1900</div>
<div class="pl fit" style="transform:scaleX(0.9300);top:550.7px">1850</div>
<div class="pl fit" style="transform:scaleX(0.9300);top:586.9px">1800</div>
<div class="pl fit" style="transform:scaleX(0.9300);top:623.1px">1750</div>
<div class="pl fit" style="transform:scaleX(0.9300);top:659.3px">1700</div>
<div class="tl fit" style="transform:scaleX(1.0833);left:30px">9/9</div>
<div class="tl fit" style="transform:scaleX(1.0147);left:57px">9/16</div>
<div class="tl fit" style="transform:scaleX(1.0294);left:100px">9/30</div>
<div class="tl fit" style="transform:scaleX(0.9853);left:131.25px">10/7</div>
<div class="tl fit" style="transform:scaleX(0.9659);left:162.5px">10/21</div>
<div class="tl fit" style="transform:scaleX(0.9659);left:202px">10/28</div>
<div class="tl fit" style="transform:scaleX(1.0119);left:241.25px">11/11</div>
<div class="tl fit" style="transform:scaleX(0.9853);left:289.5px">12/2</div>
<div class="tl fit" style="transform:scaleX(1.0294);left:320.5px">12/9</div>
<div class="tl fit" style="transform:scaleX(1.0000);left:382px">12/30</div>
<div class="tl fit" style="transform:scaleX(1.0294);left:421.25px">1/13</div>
<div class="tl fit" style="transform:scaleX(1.0625);left:469.25px">2/3</div>
<div class="tl fit" style="transform:scaleX(1.0441);left:495.5px">2/10</div>
<div class="tl fit" style="transform:scaleX(1.0833);left:552.5px">3/3</div>
<div class="tl fit" style="transform:scaleX(1.0294);left:579.25px">3/10</div>
<div class="tl fit" style="transform:scaleX(1.0294);left:610px">3/17</div>
<div class="tl fit" style="transform:scaleX(1.0833);left:662.5px">4/7</div>
<div class="tl fit" style="transform:scaleX(1.0441);left:689.25px">4/14</div>
<div class="tl fit" style="transform:scaleX(1.0588);left:737px">4/28</div>
<div class="tl fit" style="transform:scaleX(1.0147);left:768.25px">5/12</div>
<div class="tl fit" style="transform:scaleX(1.0294);left:798.75px">5/19</div>
<div class="tl fit" style="transform:scaleX(1.0833);left:829.5px">6/2</div>
<div class="tl fit" style="transform:scaleX(1.0833);left:856.25px">6/9</div>
<div class="tl fit" style="transform:scaleX(1.0294);left:882px">6/16</div>
<div class="tl fit" style="transform:scaleX(1.0417);left:930.75px">7/7</div>
<div class="tl fit" style="transform:scaleX(1.0294);left:957px">7/14</div>
<div class="tl fit" style="transform:scaleX(1.0294);left:1014.25px">7/28</div>
<div class="tl fit" style="transform:scaleX(1.0625);left:1045px">8/11</div>
<div class="tl fit" style="transform:scaleX(1.0147);left:1075.75px">8/18</div>
<div class="tl fit" style="transform:scaleX(1.0000);left:1106.75px">9/1</div>
<div class="tl fit" style="transform:scaleX(1.0833);left:1132.5px">9/8</div>
<div class="tl fit" style="transform:scaleX(1.0000);left:1159.25px">9/15</div>
<div class="tl fit" style="transform:scaleX(1.0000);left:1212.5px">10/6</div>
<div class="bigtitle fit" style="transform:scaleX(0.9789);left:598px;top:84px">RUSSELL 2000 (RUT)</div>
<div class="bigtitle fit" style="transform:scaleX(1.0115);left:598px;top:117.3px">1Y:1D</div>
<!-- hi/lo bubbles -->
<svg class="abs" style="left:0;top:0" width="1280" height="717" viewBox="0 0 1280 717">
<path d="M274 110 L277.5 103.5 L281 103.5 Z" fill="#dedede"/>
<path d="M674.5 641.5 L678 646.5 L681.5 646.5 Z" fill="#dedede"/>
</svg>
<div class="bubble" style="left:270px;top:90px;width:51px"></div><div class="btx fit" style="transform:scaleX(0.9659);left:274.7px;top:90.8px">Hi: 2466.49</div>
<div class="bubble" style="left:670px;top:646px;width:51.5px"></div><div class="btx fit" style="transform:scaleX(0.9413);left:674.5px;top:646.8px">Lo: 1732.99</div>
</div>

<!-- ===== title bar ===== -->
<div id="titlebar">
<svg class="abs" style="left:2px;top:0" width="10" height="9" viewBox="0 0 10 9"><rect x="0" y="0" width="9.5" height="8.5" rx="1" fill="#0c3c5c"/><path d="M2 2 L5 0.8 L8 2.5 L7 7 L3.5 7.5 L2 5 Z" fill="none" stroke="#2aa0dc" stroke-width="0.8"/><path d="M5 0.8 L4.5 4.5 L7 7 M4.5 4.5 L2 5" fill="none" stroke="#2aa0dc" stroke-width="0.6"/></svg>
<div class="titletext fit" style="transform:scaleX(0.8214)">RUT - Charts - Isabelle_29961 Main@thinkorswim [build 1987]</div>
<svg class="abs" style="left:1195px;top:0" width="85" height="12" viewBox="0 0 85 12">
<rect x="5.5" y="3" width="7" height="1" fill="#222"/>
<rect x="35.5" y="2.5" width="5" height="4.5" rx="0.8" fill="none" stroke="#222" stroke-width="1"/>
<path d="M37 2.5 V1.2 Q37 0.6 37.6 0.6 H42" fill="none" stroke="#222" stroke-width="1"/>
<path d="M66.3 0 L72.8 6.5 M72.8 0 L66.3 6.5" stroke="#222" stroke-width="0.9" fill="none"/>
</svg>
</div>

<!-- ===== tab bar ===== -->
<div id="tabbar">
<div id="chartstab">
<svg class="abs" style="left:5.5px;top:0" width="12" height="11" viewBox="0 0 12 11"><rect x="0.5" y="7" width="1.6" height="3" fill="#cc2e2c"/><rect x="3" y="5" width="1.6" height="5" fill="#cc2e2c"/><rect x="5.5" y="3" width="1.6" height="7" fill="#cc2e2c"/><rect x="8.2" y="0.5" width="1.8" height="9.5" fill="#cc2e2c"/></svg>
<span class="fit" style="transform:scaleX(0.9593)">Charts</span>
</div>
<div class="vsep" style="left:56px;top:0;height:17px"></div>
<div class="vsep" style="left:1048px;top:0;height:17px"></div>
<div class="abs" style="left:1048px;top:0;width:232px;height:17px;background:#474747"></div>
<div class="abs fit" style="transform:scaleX(0.8902);left:1051.5px;top:3px;font-size:9px;line-height:11px;color:#e4e4e4;white-space:nowrap">1 - INTRADAY EQUITY FUT COMP</div>
<div class="vsep" style="left:1182px;top:1px;height:15px"></div>
<div class="abs" style="left:1189px;top:2px;width:22px;height:12px;border:1px solid #b4b4b4"></div>
<div class="tri" style="left:1224px;top:11px"></div>
<div class="vsep" style="left:1228px;top:1px;height:15px"></div>
<svg class="abs" style="left:1237px;top:4px" width="9" height="9" viewBox="0 0 9 9"><path d="M5.2 0.6 L8.2 3.6 L6.6 4.2 L5.4 5.4 L3.4 3.4 L4.6 2.2 Z" fill="#d8d8d8"/><path d="M4.2 4.6 L0.8 8" stroke="#d8d8d8" stroke-width="1" fill="none"/></svg>
<div class="vsep" style="left:1254px;top:1px;height:15px"></div>
<svg class="abs" style="left:1263px;top:3px" width="12" height="10" viewBox="0 0 12 10"><g fill="#d8d8d8"><rect x="0.8" y="1" width="1.2" height="1.2"/><rect x="3" y="1" width="5.6" height="1.2"/><rect x="0.8" y="4" width="1.2" height="1.2"/><rect x="3" y="4" width="5.6" height="1.2"/><rect x="0.8" y="7" width="1.2" height="1.2"/><rect x="3" y="7" width="5.6" height="1.2"/></g></svg>
<div class="tri" style="left:1276px;top:13px"></div>
</div>

<!-- ===== toolbar ===== -->
<div id="toolbar">
<div class="abs" style="left:2.3px;top:2.3px;width:82.4px;height:14.3px;background:#121212;border:1px solid #3a4046;border-radius:2px"></div>
<div class="abs" style="left:70px;top:3.2px;width:13.4px;height:12.5px;background:#555"></div>
<div class="abs" style="left:74px;top:8px;width:0;height:0;border-left:3px solid transparent;border-right:3px solid transparent;border-top:3px solid #ddd"></div>
<div class="abs fit" style="transform:scaleX(0.8211);left:8.3px;top:3.3px;font-size:9px;line-height:12px;color:#e8e8e8;white-space:nowrap">RUT</div>
<svg class="abs" style="left:88.5px;top:3.6px" width="9" height="13" viewBox="0 0 9 13"><rect x="1.2" y="0.8" width="4" height="5.5" rx="1.8" fill="none" stroke="#c8d0d8" stroke-width="1.1"/><rect x="1.2" y="5.2" width="4" height="5.5" rx="1.8" fill="none" stroke="#c8d0d8" stroke-width="1.1"/><path d="M5.5 12 H8 V9.5 Z" fill="#c8d0d8"/></svg>
<div class="tsep" style="left:97px"></div>
<div class="tbt fit" style="transform:scaleX(0.8864);left:107px;color:#7f9fb8;font-size:9px">Russell 2000 TR USD</div>
<div class="tsep" style="left:194px"></div>
<div class="tbt fit" style="transform:scaleX(0.9681);left:199.5px;top:2px;color:#bcc6ce;font-size:11.2px;line-height:14px;font-weight:bold">2361.635</div>
<div class="tsep" style="left:249px"></div>
<div class="tbt fit" style="transform:scaleX(1.0000);left:255px;top:1px;color:#5f86a5;font-size:7px;line-height:7.5px">-16.7776<br>-0.71%</div>
<div class="tsep" style="left:287px"></div>
<div class="tbt fit" style="transform:scaleX(1.0000);left:293px;top:1px;color:#5f86a5;font-size:7px;line-height:7.5px">B: N/A<br>A: N/A</div>
<div class="tsep" style="left:317px"></div>

<!-- right side buttons -->
<div class="tsep" style="left:851px"></div>
<svg class="abs" style="left:857px;top:3px" width="14" height="12" viewBox="0 0 14 12"><path d="M4 2.5 H1.5 V10.5 H10.5 V8" fill="none" stroke="#d0d8de" stroke-width="1.1"/><path d="M8 1 L12.5 4.2 L8 7.4 V5.4 Q5 5.2 3.6 8 Q3.6 3.6 8 3 Z" fill="#d0d8de"/></svg>
<div class="tbt fit" style="transform:scaleX(0.9160);left:874.4px">Share</div>
<div class="tsep" style="left:903px"></div>
<svg class="abs" style="left:910px;top:3px" width="14" height="12" viewBox="0 0 14 12"><path d="M7 2.5 H1.5 V10 H12 V8.5" fill="none" stroke="#d0d8de" stroke-width="1.1"/><rect x="2.5" y="3.8" width="3.5" height="1" fill="#d0d8de"/><circle cx="10.2" cy="4.2" r="3.1" fill="#d0d8de"/><rect x="9.7" y="2.2" width="1" height="2.6" fill="#043a5e"/><rect x="9.7" y="5.4" width="1" height="1" fill="#043a5e"/></svg>
<div class="tsep" style="left:930px"></div>
<svg class="abs" style="left:938px;top:2px" width="12" height="14" viewBox="0 0 12 14"><path d="M3.9 1 H8.1 M4.6 1 V6 L1.5 12 H10.5 L7.4 6 V1" fill="none" stroke="#d8dfe5" stroke-width="0.9"/><path d="M3.4 9 L1.3 12.3 H10.7 L8.6 9 Z" fill="#d8dfe5"/></svg>
<div class="tsep" style="left:956px"></div>
<svg class="abs" style="left:963px;top:3px" width="13" height="12" viewBox="0 0 13 12"><g stroke="#d8dfe5" stroke-width="1.3" fill="none"><path d="M6.5 0.5 V11.5 M1 6 H12 M2.6 2.1 L10.4 9.9 M10.4 2.1 L2.6 9.9"/></g><circle cx="6.5" cy="6" r="3" fill="#d8dfe5"/><circle cx="6.5" cy="6" r="1.5" fill="#043a5e"/></svg>
<div class="tsep" style="left:983px"></div>
<div class="tbt" style="left:995.5px;font-weight:bold;font-size:8.5px;color:#e0e6ea">D</div>
<div class="tri" style="left:1010px;top:13px"></div>
<div class="tsep" style="left:1014px"></div>
<svg class="abs" style="left:1023px;top:3px" width="12" height="12" viewBox="0 0 12 12"><g fill="#d0d8de"><rect x="2" y="2" width="1" height="9"/><rect x="1" y="4.5" width="3" height="4.5" rx="0.8"/><rect x="7.3" y="0.5" width="1" height="10"/></g><rect x="5.8" y="2.5" width="4" height="5" rx="0.8" fill="none" stroke="#d0d8de" stroke-width="1.1"/></svg>
<div class="tbt fit" style="transform:scaleX(0.9048);left:1037.5px">Style</div>
<div class="tri" style="left:1059px;top:13px"></div>
<div class="tsep" style="left:1063px"></div>
<svg class="abs" style="left:1071px;top:2px" width="11" height="13" viewBox="0 0 11 13"><path d="M1.2 1 L1.2 10.5 L3.8 8.3 L5.6 12 L7.2 11.2 L5.5 7.6 L9 7.4 Z" fill="#d8dfe5"/></svg>
<div class="tbt fit" style="transform:scaleX(0.9125);left:1086px">Drawings</div>
<div class="tri" style="left:1125px;top:13px"></div>
<div class="tsep" style="left:1129px"></div>
<svg class="abs" style="left:1137px;top:2px" width="12" height="14" viewBox="0 0 12 14"><path d="M3.9 1 H8.1 M4.6 1 V6 L1.5 12 H10.5 L7.4 6 V1" fill="none" stroke="#d8dfe5" stroke-width="0.9"/><path d="M3.4 9 L1.3 12.3 H10.7 L8.6 9 Z" fill="#d8dfe5"/></svg>
<div class="tbt fit" style="transform:scaleX(0.9156);left:1152px">Studies</div>
<div class="tri" style="left:1184px;top:13px"></div>
<div class="tsep" style="left:1188px"></div>
<svg class="abs" style="left:1195px;top:2px" width="13" height="14" viewBox="0 0 13 14"><g fill="none" stroke="#d0d8de" stroke-width="1"><path d="M1 1.5 H12"/><path d="M2.5 1.5 V9.5 M2.5 8 L5 4.5 L6.5 6.8 L8.2 3.6 L9.3 5.2 L11 2.8"/><path d="M1 12.5 L11.5 8.8"/></g></svg>
<div class="tbt fit" style="transform:scaleX(0.9714);left:1211px">Patterns</div>
<div class="tri" style="left:1248px;top:13px"></div>
<div class="tsep" style="left:1254px"></div>
<svg class="abs" style="left:1263px;top:4px" width="12" height="10" viewBox="0 0 12 10"><g fill="#d8dfe5"><rect x="0.8" y="1" width="1.2" height="1.2"/><rect x="3" y="1" width="5.6" height="1.2"/><rect x="0.8" y="4" width="1.2" height="1.2"/><rect x="3" y="4" width="5.6" height="1.2"/><rect x="0.8" y="7" width="1.2" height="1.2"/><rect x="3" y="7" width="5.6" height="1.2"/></g></svg>
<div class="tri" style="left:1276px;top:13px"></div>
</div>

<!-- ===== info row ===== -->
<div id="inforow">
<div class="ct fit" style="transform:scaleX(0.9489);left:5px;color:#f4f4f4;font-weight:bold;">RUT 1 Y 1D</div>
<div class="ct fit" style="transform:scaleX(0.9634);left:56.5px;">D: 8/29/25</div>
<div class="ct fit" style="transform:scaleX(0.9091);left:102.5px;">O: 2381.16</div>
<div class="ct fit" style="transform:scaleX(0.9628);left:148px;">H: 2382.13</div>
<div class="ct fit" style="transform:scaleX(0.9143);left:195.6px;">L: 2360.65</div>
<div class="ct fit" style="transform:scaleX(0.9023);left:240.6px;">C: 2361.64</div>
<div class="ct fit" style="transform:scaleX(0.9091);left:285.6px;">R: 21.48</div>
</div>
<!-- axis icon -->
<svg class="abs" style="left:1221px;top:47px" width="14" height="15" viewBox="0 0 14 15"><g fill="none" stroke="#e6e6e6"><path d="M1.2 2.6 H13" stroke-width="1.3"/><path d="M1.2 13 H13" stroke-width="2"/><path d="M1.6 11.2 C7.5 11 6 5.2 12.6 5" stroke-width="1.1"/></g></svg>

<!-- ===== sidebar ===== -->
<div id="sidebar"></div>
<div class="st" style="top:47px;height:37px"><span class="rot" style="top:20.4px"><span class="fitc" style="transform:scaleX(0.9833)">Trade</span></span></div>
<div class="st" style="top:84px;height:77.5px"><span class="rot" style="top:40.2px"><span class="fitc" style="transform:scaleX(0.9419)">Times And Sales</span></span></div>
<div class="st" style="top:161.5px;height:65.80000000000001px"><span class="rot" style="top:34.9px"><span class="fitc" style="transform:scaleX(0.9787)">Active Trader</span></span></div>
<div class="st" style="top:227.3px;height:60.69999999999999px"><span class="rot" style="top:31.1px"><span class="fitc" style="transform:scaleX(0.9841)">Big Buttons</span></span></div>
<div class="st hl" style="top:288px;height:36px"><span class="rot" style="top:18.5px"><span class="fitc" style="transform:scaleX(0.9675)">Chart</span></span></div>
<div class="st" style="top:324px;height:66px"><span class="rot" style="top:34.1px"><span class="fitc" style="transform:scaleX(1.0000)">Option Chain</span></span></div>
<div class="st" style="top:390px;height:66.30000000000001px"><span class="rot" style="top:35.4px"><span class="fitc" style="transform:scaleX(0.9173)">Phase Scores</span></span></div>
<div class="st" style="top:456.3px;height:58.99999999999994px"><span class="rot" style="top:31.3px"><span class="fitc" style="transform:scaleX(0.9879)">Dashboard</span></span></div>
<div class="st" style="top:515.3px;height:42.200000000000045px"><span class="rot" style="top:22.2px"><span class="fitc" style="transform:scaleX(0.9507)">Level II</span></span></div>
<div class="st" style="top:557.5px;height:54.0px"><span class="rot" style="top:28.0px"><span class="fitc" style="transform:scaleX(0.9357)">Live News</span></span></div>

<!-- ===== bottom bar ===== -->
<div class="abs" style="left:2px;top:704px;width:1093px;height:10px;background:#1c1c1c"></div><div class="abs" style="left:2px;top:714px;width:1093px;height:3px;background:#101010"></div>
<div class="abs" style="left:0;top:703px;width:1px;height:14px;background:#043a5e"></div><div class="abs" style="left:1px;top:703px;width:1px;height:14px;background:#08202f"></div>
<div class="abs" style="left:5px;top:706.5px;width:0;height:0;border-top:2.5px solid transparent;border-bottom:2.5px solid transparent;border-right:3px solid #8a8a8a"></div>
<div class="abs" style="left:60px;top:703.6px;width:24px;height:14px;background:#505050"></div>
<svg class="abs" style="left:67px;top:706px" width="10" height="10" viewBox="0 0 10 10"><rect x="1.7" y="1.8" width="6.6" height="2" fill="#ececec"/><path d="M5 4.6 L8.3 9 H1.7 Z" fill="#ececec"/></svg>
<div class="abs" style="left:1077.7px;top:706.6px;width:0;height:0;border-top:2.5px solid transparent;border-bottom:2.5px solid transparent;border-right:3px solid #777"></div>
<div class="abs" style="left:1088.7px;top:706.6px;width:0;height:0;border-top:2.5px solid transparent;border-bottom:2.5px solid transparent;border-left:3px solid #777"></div>
<svg class="abs" style="left:1096px;top:702px" width="80" height="15" viewBox="0 0 80 15"><g fill="none">
<circle cx="5.8" cy="5.9" r="4.4" stroke="#4e4e4e" stroke-width="1"/><path d="M9 9.2 L12.4 12.9" stroke="#4e4e4e" stroke-width="1.2"/><path d="M4 5.9 H7.6" stroke="#4e4e4e" stroke-width="1"/>
<circle cx="21.2" cy="5.9" r="4.4" stroke="#e8e8e8" stroke-width="1.1"/><path d="M24.4 9.2 L28 13" stroke="#e8e8e8" stroke-width="1.3"/><path d="M19.4 5.9 H23 M21.2 4.1 V7.7" stroke="#e8e8e8" stroke-width="1"/>
<circle cx="52.2" cy="7.2" r="4.2" stroke="#e8e8e8" stroke-width="0.9"/><path d="M52.2 1.8 V12.6 M46.8 7.2 H57.6" stroke="#e8e8e8" stroke-width="0.9"/>
</g>
<path d="M35.3 3.4 V9.6 L31.2 6.5 Z M39.3 3.4 V9.6 L43.4 6.5 Z" fill="#e8e8e8"/><rect x="36.4" y="4" width="1.8" height="5" fill="#e8e8e8"/>
<path d="M62.3 1 V11.6 L64.9 9.3 L66.8 13.4 L68.6 12.5 L66.8 8.6 L70.6 8.4 Z" fill="#e8e8e8"/>
</svg>
<div class="abs fit" style="transform:scaleX(0.9716);left:1177.5px;top:703px;font-size:9px;line-height:12px;color:#dcdcdc;white-space:nowrap">Drawing set: Default</div>
<div class="tri" style="left:1258px;top:712px"></div>

</div>
</body>
</html>
